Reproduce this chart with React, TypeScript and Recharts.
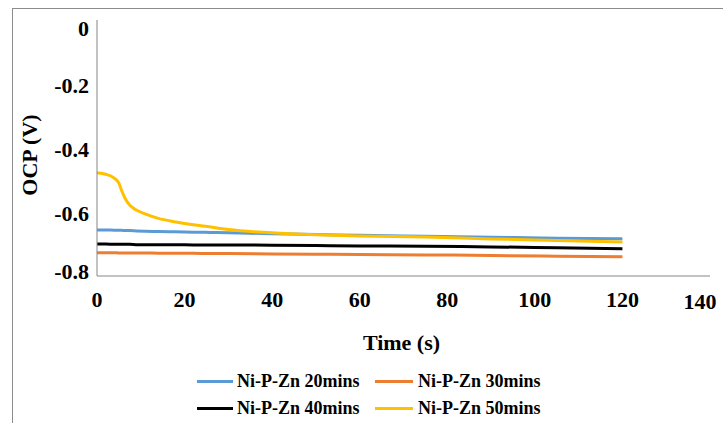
import React from 'react';
import { LineChart, Line, XAxis, YAxis, Legend } from 'recharts';

const times = [0, 2, 4, 5, 5.6, 6.4, 7.5, 9, 11, 14, 18, 22, 26, 30, 40, 50, 60, 75, 90, 105, 120];
const zn20 = [-0.656, -0.656, -0.657, -0.657, -0.657, -0.658, -0.658, -0.659, -0.66, -0.661, -0.662, -0.663, -0.664, -0.665, -0.668, -0.67, -0.673, -0.676, -0.679, -0.682, -0.684];
const zn30 = [-0.727, -0.727, -0.727, -0.728, -0.728, -0.728, -0.728, -0.728, -0.728, -0.729, -0.729, -0.729, -0.73, -0.73, -0.731, -0.732, -0.733, -0.734, -0.736, -0.738, -0.74];
const zn40 = [-0.7, -0.7, -0.701, -0.701, -0.701, -0.701, -0.701, -0.702, -0.702, -0.702, -0.702, -0.703, -0.703, -0.703, -0.704, -0.705, -0.706, -0.707, -0.709, -0.712, -0.715];
const zn50 = [-0.477, -0.482, -0.495, -0.51, -0.532, -0.557, -0.579, -0.594, -0.606, -0.62, -0.631, -0.64, -0.647, -0.655, -0.665, -0.671, -0.675, -0.678, -0.684, -0.689, -0.694];

const xTicks = [0, 20, 40, 60, 80, 100, 120, 140];
const yTicks = [0, -0.2, -0.4, -0.6, -0.8];

const series = [
  { key: 'zn20', name: 'Ni-P-Zn 20mins', color: '#5B9BD5', values: zn20 },
  { key: 'zn30', name: 'Ni-P-Zn 30mins', color: '#ED7D31', values: zn30 },
  { key: 'zn40', name: 'Ni-P-Zn 40mins', color: '#000000', values: zn40 },
  { key: 'zn50', name: 'Ni-P-Zn 50mins', color: '#FFC000', values: zn50 },
];

const data = times.map((t, i) => {
  const row: Record<string, number> = { t };
  series.forEach((s) => {
    row[s.key] = s.values[i];
  });
  return row;
});

const FONT = '"Liberation Serif", "Times New Roman", serif';

const XTick = (props: any) => {
  const { x, y, payload } = props;
  const v = payload.value;
  const dx = v === 140 ? -10 : 0;
  const dy = v === 140 ? 25 : 23;
  return (
    <text x={x + dx} y={y + dy} textAnchor="middle" fontFamily={FONT} fontWeight="bold" fontSize={22} fill="#000">
      {v}
    </text>
  );
};

const YTick = (props: any) => {
  const { x, y, payload } = props;
  const v = payload.value;
  let dy = 9;
  if (v === 0) dy = 16;
  if (v === -0.8) dy = 3;
  const label = v === 0 ? '0' : v.toFixed(1);
  return (
    <text x={x} y={y + dy} textAnchor="end" fontFamily={FONT} fontWeight="bold" fontSize={22} fill="#000">
      {label}
    </text>
  );
};

const LegendContent = () => {
  const pos = [
    { sx: 7, sw: 36, tx: 47, cy: 15 },
    { sx: 185, sw: 38, tx: 228, cy: 15 },
    { sx: 7, sw: 36, tx: 47, cy: 42 },
    { sx: 185, sw: 38, tx: 228, cy: 42 },
  ];
  return (
    <div style={{ position: 'relative', width: 370, height: 56 }}>
      {series.map((s, i) => (
        <React.Fragment key={s.key}>
          <div
            style={{
              position: 'absolute',
              left: pos[i].sx,
              top: pos[i].cy - 1.5,
              width: pos[i].sw,
              height: 3,
              background: s.color,
            }}
          />
          <div
            style={{
              position: 'absolute',
              left: pos[i].tx,
              top: pos[i].cy - 12,
              height: 24,
              lineHeight: '24px',
              fontFamily: FONT,
              fontWeight: 'bold',
              fontSize: 18,
              color: '#000',
              whiteSpace: 'nowrap',
            }}
          >
            {s.name}
          </div>
        </React.Fragment>
      ))}
    </div>
  );
};

export default function App() {
  return (
    <div style={{ position: 'absolute', left: 0, top: 0, width: 723, height: 423, background: '#fff', overflow: 'hidden' }}>
      <div
        style={{
          position: 'absolute',
          left: 12,
          top: 8,
          width: 800,
          height: 500,
          borderTop: '1px solid #8c8c8c',
          borderLeft: '1px solid #8c8c8c',
        }}
      />
      <div style={{ position: 'absolute', left: 0, top: 0 }}>
        <LineChart width={723} height={423} data={data} margin={{ top: 20, right: 13, left: 0, bottom: 0 }}>
          <XAxis
            dataKey="t"
            type="number"
            domain={[0, 140]}
            ticks={xTicks}
            height={147}
            tickLine={false}
            axisLine={{ stroke: '#868686', strokeWidth: 1 }}
            tick={<XTick />}
            interval={0}
            label={(p: any) => {
              const vb = p.viewBox;
              return (
                <text x={vb.x + vb.width / 2 - 2} y={350} textAnchor="middle" fontFamily={FONT} fontWeight="bold" fontSize={22} fill="#000">
                  Time (s)
                </text>
              );
            }}
          />
          <YAxis
            type="number"
            domain={[-0.8, 0]}
            ticks={yTicks}
            width={97}
            tickLine={false}
            axisLine={{ stroke: '#868686', strokeWidth: 1 }}
            tick={<YTick />}
            interval={0}
            label={() => (
              <text transform="translate(37,155) rotate(-90)" textAnchor="middle" fontFamily={FONT} fontWeight="bold" fontSize={22} fill="#000">
                OCP (V)
              </text>
            )}
          />
          {series.map((s) => (
            <Line
              key={s.key}
              type="monotone"
              dataKey={s.key}
              name={s.name}
              stroke={s.color}
              strokeWidth={3}
              dot={false}
              isAnimationActive={false}
            />
          ))}
          <Legend
            layout="horizontal"
            verticalAlign="middle"
            align="center"
            wrapperStyle={{ top: 366, left: 190, width: 370, height: 56 }}
            content={<LegendContent />}
          />
        </LineChart>
      </div>
    </div>
  );
}
